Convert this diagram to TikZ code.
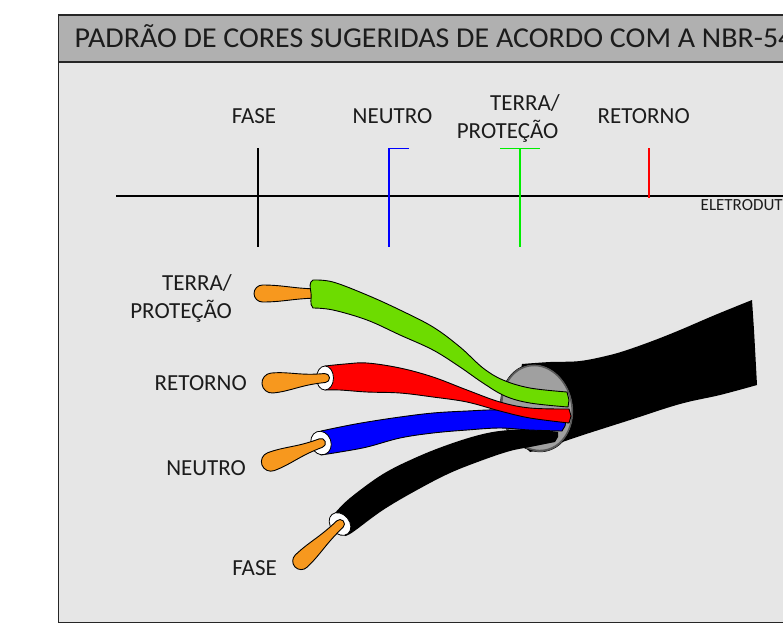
\documentclass[tikz,border=0pt]{standalone}
\usepackage{fontspec}
\setmainfont{Carlito}
\definecolor{bodygray}{HTML}{E6E6E6}
\definecolor{titlegray}{HTML}{B0B0B0}
\definecolor{txt}{HTML}{1C1C1C}
\definecolor{wgreen}{HTML}{6DDC00}
\definecolor{wred}{HTML}{FF0000}
\definecolor{wblue}{HTML}{0000FF}
\definecolor{lgreen}{HTML}{00EE00}
\definecolor{orangetip}{HTML}{F7981E}
\definecolor{cutgray}{HTML}{A0A0A0}
\newcommand\wiretip[5]{%
  \begin{scope}[shift={#1}, rotate=#2]
    \draw[tipstyle] (0,#4) .. controls ({0.4*#3},#4) and ({0.55*#3},#5) .. ({#3-#5},#5)
      .. controls ({#3-0.45*#5},#5) and (#3,{0.55*#5}) .. (#3,0)
      .. controls (#3,{-0.55*#5}) and ({#3-0.45*#5},{-#5}) .. ({#3-#5},{-#5})
      .. controls ({0.55*#3},{-#5}) and ({0.4*#3},{-#4}) .. (0,{-#4})
      .. controls ({-0.55*#4},{-#4}) and ({-#4},{-0.55*#4}) .. ({-#4},0)
      .. controls ({-#4},{0.55*#4}) and ({-0.55*#4},#4) .. (0,#4) -- cycle;
  \end{scope}}
\begin{document}
\begin{tikzpicture}[x=1pt,y=-1pt,
  lbl/.style={font=\fontsize{23}{28}\selectfont, text=txt, inner sep=0pt},
  frameline/.style={draw=black!85, line width=1.4pt},
  axisline/.style={draw=black, line width=1.2pt},
  wireout/.style={draw=black, line width=0.9pt, line join=round},
  tipstyle/.style={fill=orangetip, draw=black, line width=0.9pt, line join=round},
  ringstyle/.style={fill=white, draw=black, line width=0.8pt}]
\useasboundingbox (0,0) rectangle (783,625);
\clip (0,0) rectangle (783,625);
\fill[white] (0,0) rectangle (783,625);
% frame
\fill[bodygray] (58.5,15) rectangle (800,622.5);
\fill[titlegray] (58.5,15) rectangle (800,62);
\draw[frameline] (58.5,62) -- (800,62);
\draw[frameline] (58.5,15) rectangle (800,622.5);
\begin{scope}[shift={(74.5,47.3)}, xscale=1.04]
\node[font=\fontsize{28.8}{34}\selectfont, text=txt, anchor=base west, inner sep=0pt, transform shape] (title) at (0,0) {PADRÃO DE CORES SUGERIDAS DE ACORDO COM A NBR-54};
\end{scope}
% legend
\draw[axisline] (116,196) -- (800,196);
\draw[black, line width=1.3pt] (258,148) -- (258,247);
\draw[wblue, line width=1.8pt] (409,148.5) -- (389,148.5) -- (389,247);
\draw[lgreen, line width=1.8pt] (500,148.5) -- (540,148.5);
\draw[lgreen, line width=1.8pt] (520,148.5) -- (520,247);
\draw[wred, line width=1.8pt] (649,148) -- (649,198);
\node[lbl, anchor=base] (tFase) at (254,123.3) {FASE};
\node[lbl, anchor=base] (tNeutro) at (392.5,123.3) {NEUTRO};
\node[lbl, anchor=base east] (tTerraA) at (560,110) {TERRA/};
\node[lbl, anchor=base east] (tTerraB) at (558.5,138) {PROTEÇÃO};
\node[lbl, anchor=base] (tRetorno) at (643.7,123.3) {RETORNO};
\node[font=\fontsize{17}{20}\selectfont, text=txt, anchor=base west, inner sep=0pt] (eletro) at (700.5,210.7) {ELETRODUT};
% cable jacket
\fill[black] plot[smooth, tension=0.6] coordinates {(522,364) (550,362) (580,361) (610,355) (630,349) (655,340) (680,330) (715,315) (752,300)}
  -- (754,330) -- (757,385)
  -- plot[smooth, tension=0.6] coordinates {(757,385) (720,395) (680,404) (630,420) (580,436) (545,448) (530,452)}
  -- (510,430) -- cycle;
% cut face
\draw[fill=cutgray, draw=black!65, line width=1.8pt, rotate around={12:(537,408)}] (537,408) ellipse [x radius=35pt, y radius=43pt];
\draw[draw=black, line width=0.5pt, rotate around={12:(537,408)}] (537,408) ellipse [x radius=36.2pt, y radius=44.2pt];
% black wire (FASE)
\fill[black] plot[smooth, tension=0.6] coordinates {(335,513) (350,498) (383,474) (417,457) (450,444) (483,434) (510,430) (540,430) (558,432)}
  -- (558,437) -- (555,442)
  -- plot[smooth, tension=0.6] coordinates {(555,442) (530,447) (510,451) (483,460) (450,473) (417,490) (383,510) (353,532) (345,536)}
  -- cycle;
% blue wire (NEUTRO)
\path[fill=wblue, wireout] plot[smooth, tension=0.6] coordinates {(321,431) (345,426) (367,422) (400,417) (433,413) (467,411) (500,410) (530,414) (566,420)}
  -- (565,426) -- (562,431)
  -- plot[smooth, tension=0.6] coordinates {(562,431) (530,430) (500,428) (467,430) (433,433) (400,438) (367,447) (340,452) (321,455)}
  -- cycle;
% red wire (RETORNO)
\path[fill=wred, wireout] plot[smooth, tension=0.6] coordinates {(325,366) (345,364) (367,363) (400,368) (433,377) (467,390) (500,402) (530,408) (569,409)}
  -- (571,416) -- (569,423)
  -- plot[smooth, tension=0.6] coordinates {(569,423) (530,418) (500,411) (467,402) (433,397) (400,393) (367,392) (340,390) (325,390)}
  -- cycle;
% green tip (under insulation)
\wiretip{(322,293.5)}{180}{68}{4.5}{8.5}
% green wire (TERRA)
\path[fill=wgreen, wireout] plot[smooth, tension=0.6] coordinates {(313,280) (333,282) (367,295) (400,310) (433,327) (460,347) (483,368) (503,380) (530,388) (567,392)}
  -- (569,400) -- (568,407)
  -- plot[smooth, tension=0.6] coordinates {(568,407) (530,403) (505,396) (483,383) (460,367) (433,350) (400,335) (367,320) (333,310) (313,308)}
  .. controls (309,304) and (312,298) .. (311,293) .. controls (310,287) and (309,282) .. (313,280) -- cycle;
% rings and tips
\draw[ringstyle] (325,378) ellipse [x radius=8.5pt, y radius=12pt];
\wiretip{(325,378)}{185.4}{63.3}{4.5}{10}
\draw[ringstyle, rotate around={20:(321,443)}] (321,443) ellipse [x radius=10pt, y radius=12pt];
\wiretip{(321,443)}{200.45}{63}{4.5}{9.5}
\draw[ringstyle, rotate around={40:(340,524)}] (340,524) ellipse [x radius=9.5pt, y radius=12.5pt];
\wiretip{(340,524)}{223.7}{62.2}{4.5}{8.5}
% wire labels
\node[lbl, anchor=base east] (wTerraA) at (232,290) {TERRA/};
\node[lbl, anchor=base east] (wTerraB) at (232,318) {PROTEÇÃO};
\node[lbl, anchor=base east] (wRetorno) at (247,390) {RETORNO};
\node[lbl, anchor=base east] (wNeutro) at (246,475) {NEUTRO};
\node[lbl, anchor=base east] (wFase) at (277,575) {FASE};
\end{tikzpicture}
\end{document}
